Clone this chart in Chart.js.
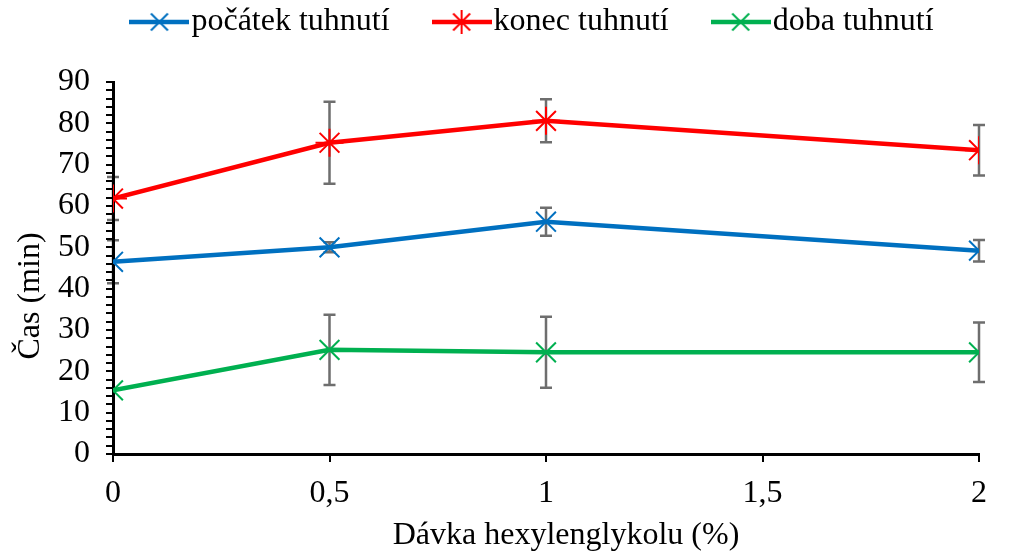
<!DOCTYPE html>
<html>
<head>
<meta charset="utf-8">
<script src="https://cdn.jsdelivr.net/npm/chart.js@4/dist/chart.umd.min.js"></script>
<style>
  html, body { margin: 0; padding: 0; background: #fff; }
  #wrap { width: 1010px; height: 552px; }
</style>
</head>
<body>
<div id="wrap"><canvas id="chart"></canvas></div>
<script>
// hexylenglykol dose vs setting time
var xValues = [0, 0.5, 1, 2];
var pocatek = [46.5, 50.0, 56.2, 49.2];
var pocatekErr = [5.2, 1.2, 3.4, 2.6];
var konec = [61.8, 75.3, 80.6, 73.5];
var konecErr = [5.2, 9.9, 5.2, 6.1];
var doba = [15.4, 25.2, 24.6, 24.6];
var dobaErr = [0, 8.5, 8.6, 7.2];

var seriesNames = ['počátek tuhnutí', 'konec tuhnutí', 'doba tuhnutí'];
var seriesColors = ['#0070C0', '#FF0000', '#00B050'];
var seriesMarkers = ['crossRot', 'star', 'crossRot'];

var FONT = "'Liberation Serif', 'Times New Roman', serif";
var FS = 32;

function toPoints(vals) {
    var pts = [];
    for (var i = 0; i < vals.length; i++) {
        pts.push({x: xValues[i], y: vals[i]});
    }
    return pts;
}

// legend sample: short line with the marker on it
function legendIcon(color, marker) {
    var c = document.createElement('canvas');
    c.width = 60; c.height = 26;
    var ctx = c.getContext('2d');
    ctx.strokeStyle = color;
    ctx.lineWidth = 4.5;
    ctx.beginPath();
    ctx.moveTo(0, 13); ctx.lineTo(60, 13);
    ctx.stroke();
    ctx.lineWidth = 2;
    Chart.helpers.drawPoint(ctx, {pointStyle: marker, radius: 12, borderWidth: 2}, 30, 13);
    return c;
}

var errors = [pocatekErr, konecErr, dobaErr];

// drawn before the axes so the axis line covers the bars at x = 0
var errorBars = {
    id: 'errorBars',
    beforeDraw: function(chart) {
        var ctx = chart.ctx;
        var xs = chart.scales.x, ys = chart.scales.y;
        ctx.save();
        ctx.strokeStyle = '#6E6E6E';
        ctx.lineWidth = 2.5;
        chart.data.datasets.forEach(function(ds, d) {
            ds.data.forEach(function(p, i) {
                var e = errors[d][i];
                if (!e) return;
                var px = xs.getPixelForValue(p.x);
                var top = ys.getPixelForValue(p.y + e);
                var bot = ys.getPixelForValue(p.y - e);
                ctx.beginPath();
                ctx.moveTo(px, top); ctx.lineTo(px, bot);
                ctx.moveTo(px - 6, top); ctx.lineTo(px + 6, top);
                ctx.moveTo(px - 6, bot); ctx.lineTo(px + 6, bot);
                ctx.stroke();
            });
        });
        ctx.restore();
    }
};

// keep the legend short and nudge it to where the original has it
var legendShift = {
    id: 'legendShift',
    beforeLayout: function(chart) {
        var lg = chart.legend;
        if (lg && !lg._patched) {
            var fit = lg.fit;
            lg.fit = function() { fit.call(this); this.height -= 16; };
            lg._patched = true;
        }
    },
    afterLayout: function(chart) {
        var lg = chart.legend;
        lg.left += 49; lg.right += 49;
        lg.top -= 50;
        lg.bottom = lg.top + 100;
    }
};

var allSeries = [pocatek, konec, doba];
var datasets = [];
for (var s = 0; s < allSeries.length; s++) {
    datasets.push({
        label: seriesNames[s],
        data: toPoints(allSeries[s]),
        borderColor: seriesColors[s],
        backgroundColor: seriesColors[s],
        borderWidth: 4.5,
        pointStyle: seriesMarkers[s],
        pointRadius: 14,
        pointBorderWidth: 2,
        tension: 0
    });
}

Chart.defaults.font.family = FONT;
Chart.defaults.color = '#000';

new Chart(document.getElementById('chart'), {
    type: 'line',
    data: { datasets: datasets },
    plugins: [errorBars, legendShift],
    options: {
        responsive: true,
        maintainAspectRatio: false,
        animation: false,
        layout: { padding: { left: 0, right: 31, top: 0, bottom: 0 } },
        plugins: {
            tooltip: { enabled: false },
            legend: {
                position: 'top',
                labels: {
                    font: { size: FS, family: FONT },
                    color: '#000',
                    usePointStyle: true,
                    pointStyleWidth: 32,
                    padding: 56,
                    generateLabels: function(chart) {
                        return chart.data.datasets.map(function(ds, i) {
                            return {
                                text: ds.label,
                                pointStyle: legendIcon(seriesColors[i], seriesMarkers[i]),
                                fillStyle: seriesColors[i],
                                strokeStyle: seriesColors[i],
                                lineWidth: 0,
                                datasetIndex: i
                            };
                        });
                    }
                }
            }
        },
        scales: {
            x: {
                type: 'linear',
                min: 0,
                max: 2,
                afterFit: function(scale) { scale.height = 98; },
                ticks: {
                    stepSize: 0.5,
                    font: { size: FS },
                    padding: 12,
                    callback: function(v) { return String(v).replace('.', ','); }
                },
                grid: { drawOnChartArea: false, color: '#000', tickLength: 8, lineWidth: 2 },
                border: { color: '#000', width: 3 },
                title: { display: true, text: '\u00a0\u00a0\u00a0\u00a0\u00a0Dávka hexylenglykolu (%)', font: { size: FS }, padding: { top: 0, bottom: -3 } }
            },
            y: {
                min: 0,
                max: 90,
                afterFit: function(scale) { scale.width = 113; },
                ticks: {
                    stepSize: 2,
                    autoSkip: false,
                    font: { size: FS },
                    padding: 16,
                    callback: function(v) { return v % 10 === 0 ? String(v) : ''; }
                },
                grid: { drawOnChartArea: false, color: '#000', tickLength: 7, lineWidth: 2 },
                border: { color: '#000', width: 3 },
                title: { display: true, text: 'Čas (min)\u00a0\u00a0\u00a0\u00a0\u00a0\u00a0\u00a0', font: { size: FS }, padding: { top: 11, bottom: 0 } }
            }
        }
    }
});
</script>
</body>
</html>
